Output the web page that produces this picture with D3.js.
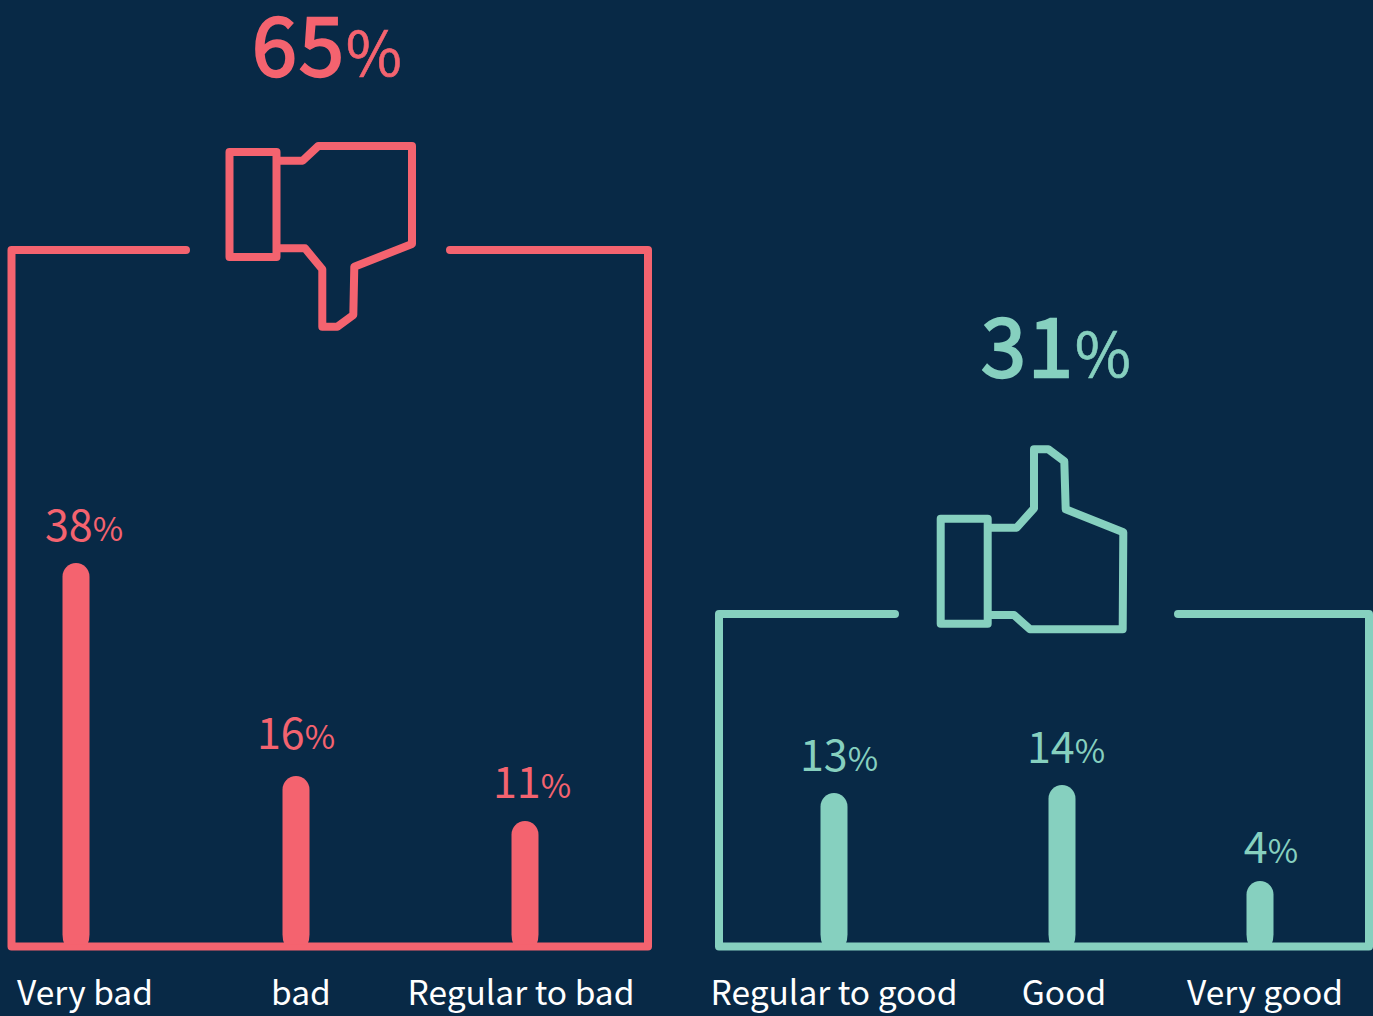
<!DOCTYPE html>
<html lang="en">
<head>
<meta charset="utf-8">
<title>Very bad to very good</title>
<style type="text/css">
    html, body { margin: 0; padding: 0; background: #082946; overflow: hidden; }
    text { font-family: "Noto Sans CJK SC", "Noto Sans", sans-serif; }
</style>
</head>
<body>
<script src="https://d3js.org/d3.v7.min.js"></script>
<script>

    var w = 1373;
    var h = 1016;

    var red = "#f4636f";
    var teal = "#86d0bf";

    // data
    var categories = ["Very bad", "bad", "Regular to bad", "Regular to good", "Good", "Very good"];
    var values = [38, 16, 11, 13, 14, 4];
    var groupOf = [0, 0, 0, 1, 1, 1];
    var groupTotals = [65, 31];

    // horizontal placement, the picture has no even spacing
    var barX = d3.scaleOrdinal().domain(categories).range([76, 296, 525, 834, 1062, 1260]);
    var labelX = d3.scaleOrdinal().domain(categories).range([85, 301, 521, 834, 1064, 1265]);
    var valueX = d3.scaleOrdinal().domain(categories).range([84, 296, 532, 839, 1066, 1271]);
    var valueY = d3.scaleOrdinal().domain(categories).range([541, 749, 798, 771, 763, 863]);

    // the bars are not proportional in the original, so the scale is piecewise
    var baseY = 946.5;
    var y = d3.scaleLinear()
        .domain([4, 11, 13, 14, 16, 38])
        .range([881, 821, 793, 785, 776, 563]);

    var barWidth = 27;

    var svg = d3.select("body")
        .append("svg")
        .attr("width", w)
        .attr("height", h)
        .style("display", "block");

    svg.append("rect").attr("width", w).attr("height", h).attr("fill", "#082946");

    var line = d3.line();

    // frames and thumbs
    var groups = [
        {
            color: red, total: groupTotals[0], totalX: 327, totalY: 76,
            frame: [[186, 250], [11.5, 250], [11.5, baseY], [648, baseY], [648, 250], [450, 250]],
            cuff: [229.5, 152, 47, 105],
            hand: [[276.5, 160.7], [302.7, 160.7], [318.3, 146], [412, 146], [412, 244], [354.3, 266.7],
                   [353.3, 315], [337.3, 326.7], [322.3, 326.7], [322.3, 269.3], [305, 248.3], [276.5, 248.3]]
        },
        {
            color: teal, total: groupTotals[1], totalX: 1056, totalY: 377,
            frame: [[895, 614], [719, 614], [719, baseY], [1369, baseY], [1369, 614], [1178, 614]],
            cuff: [940.7, 518.7, 47, 105],
            hand: [[987.7, 527.7], [1016.7, 527.7], [1034, 508.3], [1034, 449.3], [1048.3, 449.3],
                   [1064.3, 461.3], [1065.7, 509.3], [1123.3, 532.3], [1122.7, 629.3], [1030, 629.3],
                   [1014, 615], [987.7, 615]]
        }
    ];

    groups.forEach(function(g) {
        svg.append("path")
            .attr("d", line(g.frame))
            .attr("fill", "none")
            .attr("stroke", g.color)
            .attr("stroke-width", 8)
            .attr("stroke-linecap", "round")
            .attr("stroke-linejoin", "round");

        svg.append("rect")
            .attr("x", g.cuff[0])
            .attr("y", g.cuff[1])
            .attr("width", g.cuff[2])
            .attr("height", g.cuff[3])
            .attr("fill", "none")
            .attr("stroke", g.color)
            .attr("stroke-width", 8)
            .attr("stroke-linejoin", "round");

        svg.append("path")
            .attr("d", line(g.hand))
            .attr("fill", "none")
            .attr("stroke", g.color)
            .attr("stroke-width", 8)
            .attr("stroke-linejoin", "round");

        var t = svg.append("text")
            .attr("x", g.totalX)
            .attr("y", g.totalY)
            .attr("text-anchor", "middle")
            .attr("fill", g.color);
        // no semibold installed, so the regular digits get a thin outline
        t.append("tspan")
            .attr("font-size", 81)
            .attr("stroke", g.color)
            .attr("stroke-width", 2.4)
            .attr("letter-spacing", 2)
            .text(g.total);
        t.append("tspan")
            .attr("font-size", 61)
            .attr("stroke", g.color)
            .attr("stroke-width", 0.6)
            .text("%");
    });

    // bars, rounded on top with a slight pinch where they meet the frame
    function barPath(d, i) {
        var x = barX(categories[i]);
        var r = barWidth / 2;
        return "M" + (x - r + 2) + "," + (baseY - 2) +
            "Q" + (x - r) + "," + (baseY - 6) + " " + (x - r) + "," + (baseY - 12) +
            "V" + (y(d) + r) +
            "A" + r + "," + r + " 0 0 1 " + (x + r) + "," + (y(d) + r) +
            "V" + (baseY - 12) +
            "Q" + (x + r) + "," + (baseY - 6) + " " + (x + r - 2) + "," + (baseY - 2) + "Z";
    }

    svg.selectAll("path.bar")
        .data(values)
        .enter()
        .append("path")
        .attr("class", "bar")
        .attr("d", barPath)
        .attr("fill", function(d, i) { return groups[groupOf[i]].color; });

    // value labels
    var valueLabels = svg.selectAll("text.value")
        .data(values)
        .enter()
        .append("text")
        .attr("class", "value")
        .attr("x", function(d, i) { return valueX(categories[i]); })
        .attr("y", function(d, i) { return valueY(categories[i]); })
        .attr("text-anchor", "middle")
        .attr("fill", function(d, i) { return groups[groupOf[i]].color; });

    valueLabels.append("tspan").attr("font-size", 43).text(function(d) { return d; });
    valueLabels.append("tspan").attr("font-size", 33).text("%");

    // category labels
    svg.selectAll("text.cat")
        .data(categories)
        .enter()
        .append("text")
        .attr("class", "cat")
        .attr("x", function(d) { return labelX(d); })
        .attr("y", 1005)
        .attr("text-anchor", "middle")
        .attr("fill", "#ffffff")
        .attr("font-size", 33.5)
        .text(function(d) { return d; });

</script>
</body>
</html>
